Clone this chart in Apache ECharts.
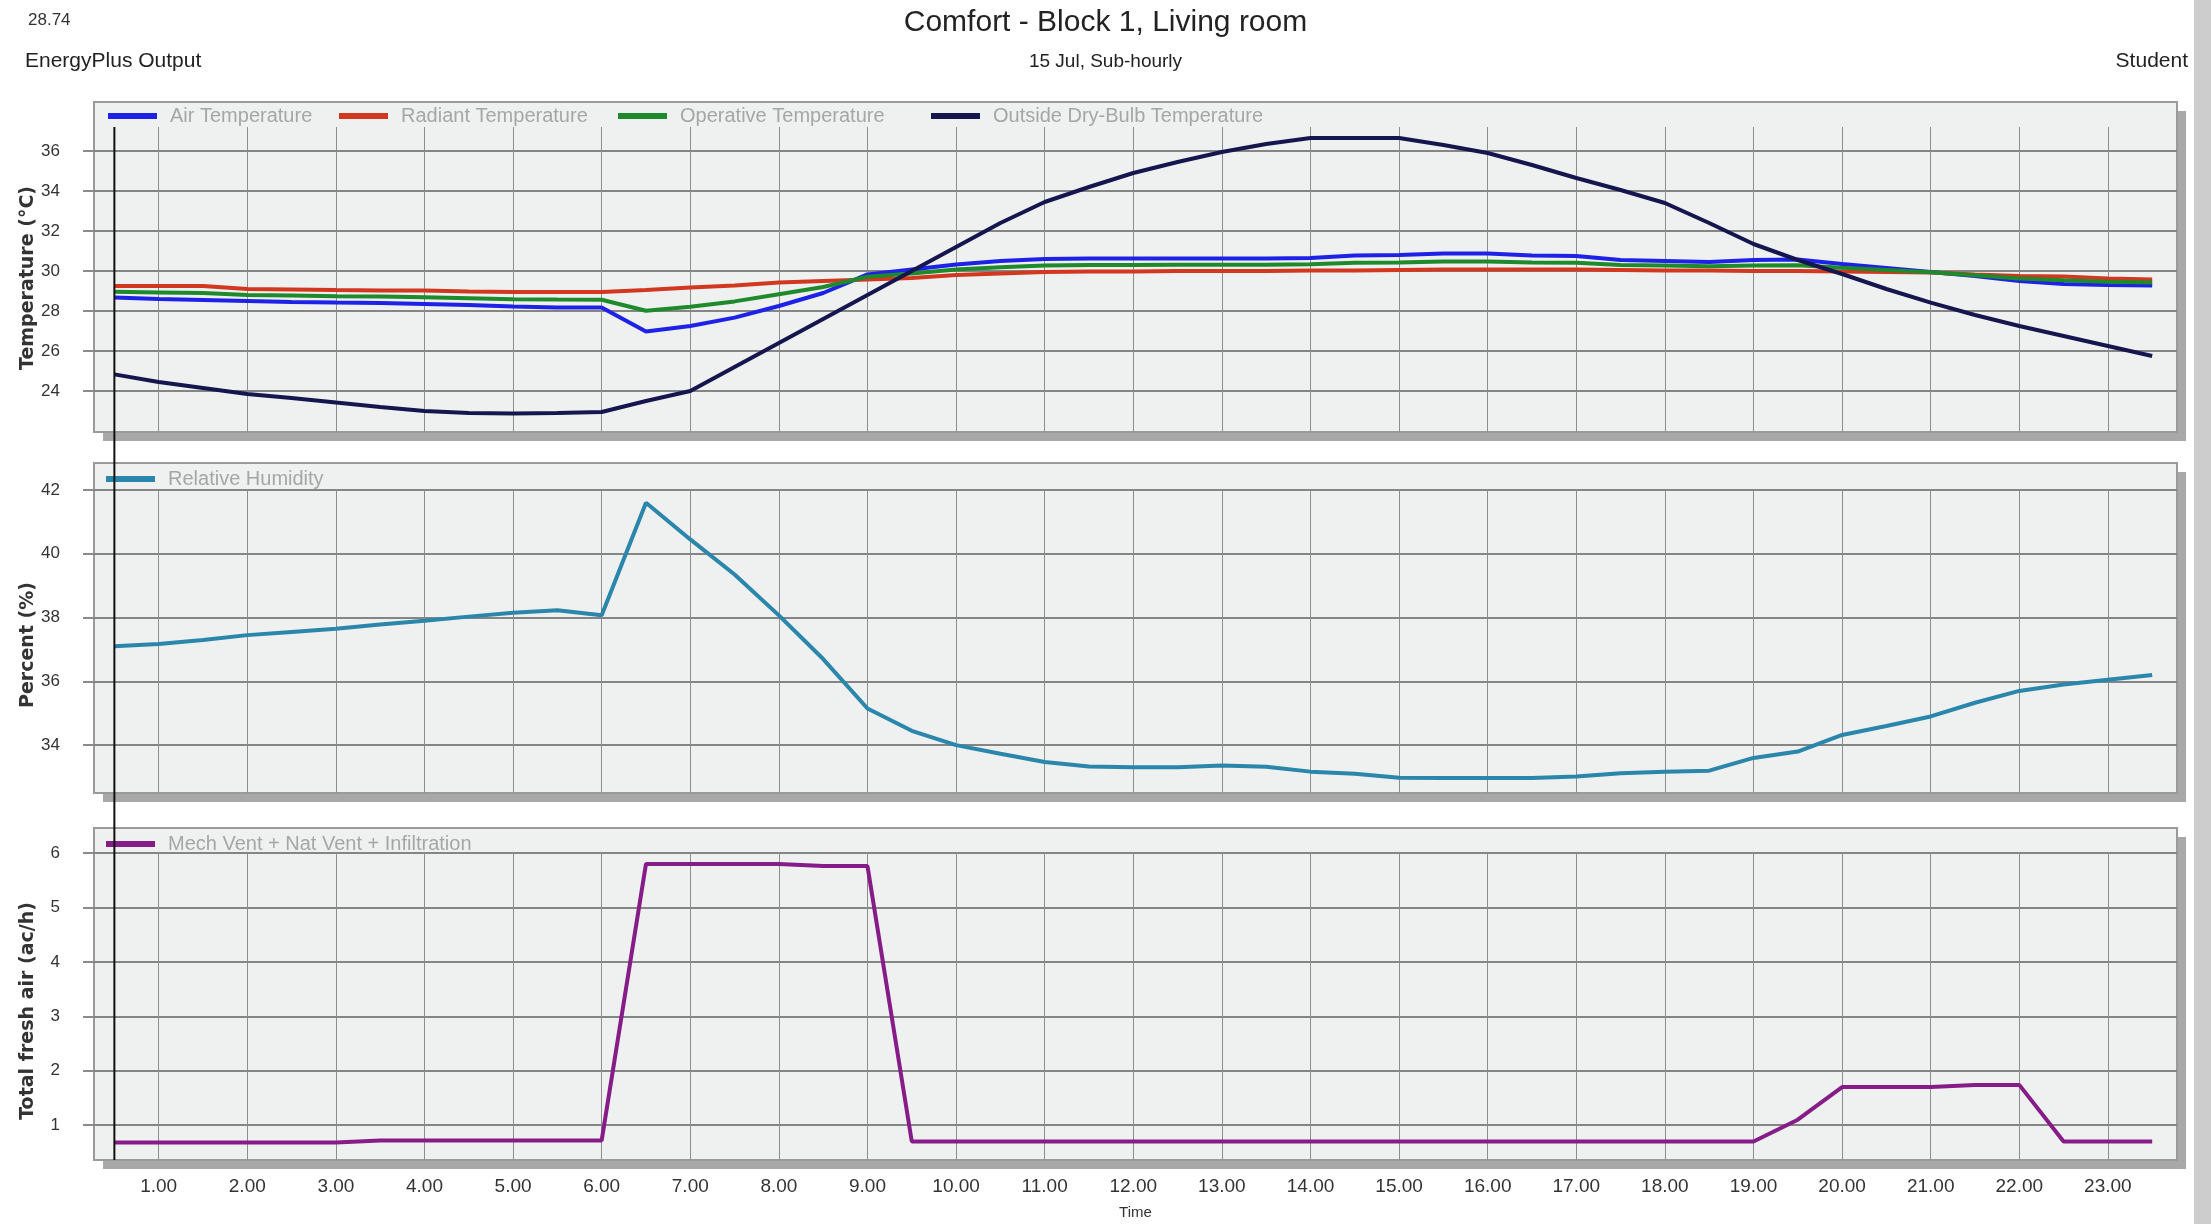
<!DOCTYPE html>
<html>
<head>
<meta charset="utf-8">
<title>Comfort - Block 1, Living room</title>
<script src="https://cdn.jsdelivr.net/npm/echarts@6/dist/echarts.min.js"></script>
<style>
  html, body { margin: 0; padding: 0; background: #ffffff; }
  #chart { width: 2211px; height: 1224px; }
</style>
</head>
<body>
<div id="chart"></div>
<script>
// Sub-hourly time stamps (hours)
const hours = [0.5, 1.0, 1.5, 2.0, 2.5, 3.0, 3.5, 4.0, 4.5, 5.0, 5.5, 6.0, 6.5, 7.0, 7.5, 8.0,
  8.5, 9.0, 9.5, 10.0, 10.5, 11.0, 11.5, 12.0, 12.5, 13.0, 13.5, 14.0, 14.5, 15.0, 15.5, 16.0,
  16.5, 17.0, 17.5, 18.0, 18.5, 19.0, 19.5, 20.0, 20.5, 21.0, 21.5, 22.0, 22.5, 23.0, 23.5];

// Temperatures (°C)
const airTemp = [28.67, 28.60, 28.55, 28.50, 28.45, 28.42, 28.40, 28.35, 28.30, 28.22, 28.18, 28.17,
  26.97, 27.25, 27.67, 28.25, 28.90, 29.83, 30.08, 30.33, 30.50, 30.60, 30.62, 30.62, 30.62, 30.62,
  30.62, 30.65, 30.78, 30.80, 30.88, 30.88, 30.78, 30.75, 30.55, 30.50, 30.45, 30.55, 30.58, 30.35,
  30.15, 29.95, 29.75, 29.50, 29.35, 29.30, 29.28];
const radiantTemp = [29.25, 29.25, 29.25, 29.10, 29.08, 29.05, 29.03, 29.02, 28.97, 28.95, 28.95, 28.95,
  29.05, 29.17, 29.28, 29.42, 29.50, 29.58, 29.65, 29.80, 29.88, 29.95, 29.97, 29.98, 30.00, 30.00,
  30.00, 30.02, 30.03, 30.05, 30.07, 30.08, 30.08, 30.07, 30.05, 30.03, 30.02, 30.00, 30.00, 29.97,
  29.95, 29.93, 29.83, 29.75, 29.72, 29.62, 29.58];
const operativeTemp = [28.96, 28.93, 28.90, 28.80, 28.77, 28.74, 28.72, 28.69, 28.64, 28.59, 28.57, 28.56,
  28.01, 28.21, 28.48, 28.84, 29.20, 29.71, 29.87, 30.07, 30.19, 30.28, 30.30, 30.30, 30.31, 30.31,
  30.31, 30.34, 30.41, 30.43, 30.48, 30.48, 30.43, 30.41, 30.30, 30.27, 30.24, 30.28, 30.29, 30.16,
  30.05, 29.94, 29.79, 29.63, 29.54, 29.46, 29.43];
const outsideTemp = [24.83, 24.45, 24.15, 23.85, 23.65, 23.42, 23.20, 23.00, 22.90, 22.88, 22.90, 22.95,
  23.50, 24.00, 25.20, 26.40, 27.60, 28.80, 30.00, 31.20, 32.40, 33.45, 34.20, 34.90, 35.45, 35.95,
  36.35, 36.65, 36.65, 36.65, 36.30, 35.90, 35.30, 34.65, 34.05, 33.40, 32.40, 31.35, 30.55, 29.85,
  29.10, 28.42, 27.80, 27.25, 26.75, 26.25, 25.75];

// Relative humidity (%)
const relHumidity = [37.10, 37.17, 37.30, 37.45, 37.55, 37.65, 37.78, 37.90, 38.03, 38.15, 38.23, 38.07,
  41.60, 40.45, 39.35, 38.07, 36.70, 35.15, 34.45, 34.00, 33.73, 33.47, 33.33, 33.31, 33.31, 33.36,
  33.32, 33.17, 33.10, 32.98, 32.97, 32.97, 32.97, 33.02, 33.12, 33.17, 33.20, 33.60, 33.80, 34.32,
  34.60, 34.90, 35.33, 35.70, 35.90, 36.05, 36.20];

// Mech Vent + Nat Vent + Infiltration (ac/h)
const freshAir = [0.68, 0.68, 0.68, 0.68, 0.68, 0.68, 0.72, 0.72, 0.72, 0.72, 0.72, 0.72,
  5.80, 5.80, 5.80, 5.80, 5.76, 5.76, 0.70, 0.70, 0.70, 0.70, 0.70, 0.70, 0.70, 0.70,
  0.70, 0.70, 0.70, 0.70, 0.70, 0.70, 0.70, 0.70, 0.70, 0.70, 0.70, 0.70, 1.10, 1.70,
  1.70, 1.70, 1.74, 1.74, 0.70, 0.70, 0.70];

// Tick values
const hourTicks = [1, 2, 3, 4, 5, 6, 7, 8, 9, 10, 11, 12, 13, 14, 15, 16, 17, 18, 19, 20, 21, 22, 23];
const tempTicks = [24, 26, 28, 30, 32, 34, 36];
const rhTicks = [34, 36, 38, 40, 42];
const airTicks = [1, 2, 3, 4, 5, 6];

const FONT = '"Liberation Sans", Arial, sans-serif';
const WIDE_FONT = '"DejaVu Sans", "Liberation Sans", sans-serif';
const PLOT_LEFT = 94, PLOT_WIDTH = 2083;
const panels = [
  { boxTop: 102, boxBottom: 432, gridTop: 127 },
  { boxTop: 463, boxBottom: 793, gridTop: 490 },
  { boxTop: 828, boxBottom: 1160, gridTop: 853 }
];

const pairs = arr => hours.map((h, i) => [h, arr[i]]);

function xAxisFor(i) {
  return {
    type: 'value', gridIndex: i, min: 0.27, max: 23.78,
    axisLine: { show: false },
    axisTick: { show: false, customValues: hourTicks },
    axisLabel: {
      show: i === 2, customValues: hourTicks, margin: 17,
      fontSize: 19, color: '#333', fontFamily: FONT,
      formatter: v => v.toFixed(2)
    },
    splitLine: { show: true, lineStyle: { color: '#8d8d8d', width: 1 } },
    name: i === 2 ? 'Time' : '', nameLocation: 'middle', nameGap: 45,
    nameTextStyle: { fontSize: 15, color: '#333', fontFamily: FONT }
  };
}
function yAxisFor(i, min, max, ticks) {
  return {
    type: 'value', gridIndex: i, min: min, max: max,
    axisLine: { show: false },
    axisTick: { show: true, length: 11, customValues: ticks, lineStyle: { color: '#8a8a8a', width: 2 } },
    axisLabel: { customValues: ticks, margin: 34, fontSize: 17, color: '#333', fontFamily: FONT },
    splitLine: { show: true, lineStyle: { color: '#858585', width: 2 } }
  };
}
function lineSeries(name, data, color, xi) {
  return {
    name: name, type: 'line', xAxisIndex: xi, yAxisIndex: xi,
    data: pairs(data), showSymbol: false, symbol: 'none',
    lineStyle: { color: color, width: 4 }, itemStyle: { color: color },
    emphasis: { disabled: true }, animation: false
  };
}
function legendAt(name, left, top) {
  return {
    data: [name], left: left, top: top, icon: 'rect', itemWidth: 49, itemHeight: 6,
    itemGap: 0, selectedMode: false,
    textStyle: { color: '#a6a6a6', fontSize: 20, fontFamily: FONT, padding: [0, 0, 0, 8] }
  };
}

const chart = echarts.init(document.getElementById('chart'), null, { renderer: 'canvas' });

chart.setOption({
  backgroundColor: '#ffffff',
  animation: false,
  title: {
    text: 'Comfort - Block 1, Living room',
    subtext: '15 Jul, Sub-hourly',
    left: 'center', top: 3, itemGap: 14,
    textStyle: { fontSize: 30, fontWeight: 'normal', color: '#222', fontFamily: FONT },
    subtextStyle: { fontSize: 19, color: '#222', fontFamily: FONT }
  },
  legend: [
    legendAt('Air Temperature', 103, 101),
    legendAt('Radiant Temperature', 334, 101),
    legendAt('Operative Temperature', 613, 101),
    legendAt('Outside Dry-Bulb Temperature', 926, 101),
    legendAt('Relative Humidity', 101, 464),
    legendAt('Mech Vent + Nat Vent + Infiltration', 101, 829)
  ],
  grid: panels.map(p => ({
    left: PLOT_LEFT, width: PLOT_WIDTH, top: p.gridTop, height: p.boxBottom - p.gridTop,
    containLabel: false
  })),
  xAxis: [xAxisFor(0), xAxisFor(1), xAxisFor(2)],
  yAxis: [
    yAxisFor(0, 21.95, 37.2, tempTicks),
    yAxisFor(1, 32.5, 42, rhTicks),
    yAxisFor(2, 0.36, 6, airTicks)
  ],
  series: [
    lineSeries('Air Temperature', airTemp, '#1e22e6', 0),
    lineSeries('Radiant Temperature', radiantTemp, '#d2381f', 0),
    lineSeries('Operative Temperature', operativeTemp, '#1e8a2c', 0),
    lineSeries('Outside Dry-Bulb Temperature', outsideTemp, '#16164e', 0),
    lineSeries('Relative Humidity', relHumidity, '#2a86aa', 1),
    lineSeries('Mech Vent + Nat Vent + Infiltration', freshAir, '#861c88', 2)
  ]
});

// Panel frames with drop shadows, header texts and the time cursor
const frames = [];
panels.forEach(p => {
  frames.push({
    type: 'rect', z: -10, silent: true,
    shape: { x: PLOT_LEFT + 9, y: p.boxTop + 9, width: PLOT_WIDTH, height: p.boxBottom - p.boxTop },
    style: { fill: '#a8a8a8' }
  });
  frames.push({
    type: 'rect', z: -9, silent: true,
    shape: { x: PLOT_LEFT, y: p.boxTop, width: PLOT_WIDTH, height: p.boxBottom - p.boxTop },
    style: { fill: '#eff0f0', stroke: '#9a9a9a', lineWidth: 2 }
  });
});

const cursorTop = chart.convertToPixel({ gridIndex: 0 }, [0.5, 37.2]);
const cursorBottom = chart.convertToPixel({ gridIndex: 2 }, [0.5, 0.36]);

function axisTitle(text, y) {
  return {
    type: 'text', x: 28, y: y, rotation: Math.PI / 2,
    style: { text: text, align: 'center', verticalAlign: 'middle', fill: '#333', font: 'bold 19px ' + WIDE_FONT }
  };
}

const texts = [
  { type: 'text', x: 28, y: 20, style: { text: '28.74', verticalAlign: 'middle', fill: '#333', font: '17px ' + FONT } },
  { type: 'text', x: 25, y: 61, style: { text: 'EnergyPlus Output', verticalAlign: 'middle', fill: '#222', font: '21px ' + FONT } },
  { type: 'text', x: 2188, y: 61, style: { text: 'Student', align: 'right', verticalAlign: 'middle', fill: '#222', font: '21px ' + FONT } },
  axisTitle('Temperature (°C)', 278),
  axisTitle('Percent (%)', 645),
  axisTitle('Total fresh air (ac/h)', 1011),
  { type: 'rect', silent: true, shape: { x: 2194, y: 0, width: 17, height: 1224 }, style: { fill: '#cdcdcd' } },
  { type: 'line', z: 20, silent: true,
    shape: { x1: cursorTop[0], y1: cursorTop[1], x2: cursorBottom[0], y2: cursorBottom[1] },
    style: { stroke: '#111111', lineWidth: 2 } }
];

chart.setOption({ graphic: frames.concat(texts) });
</script>
</body>
</html>
